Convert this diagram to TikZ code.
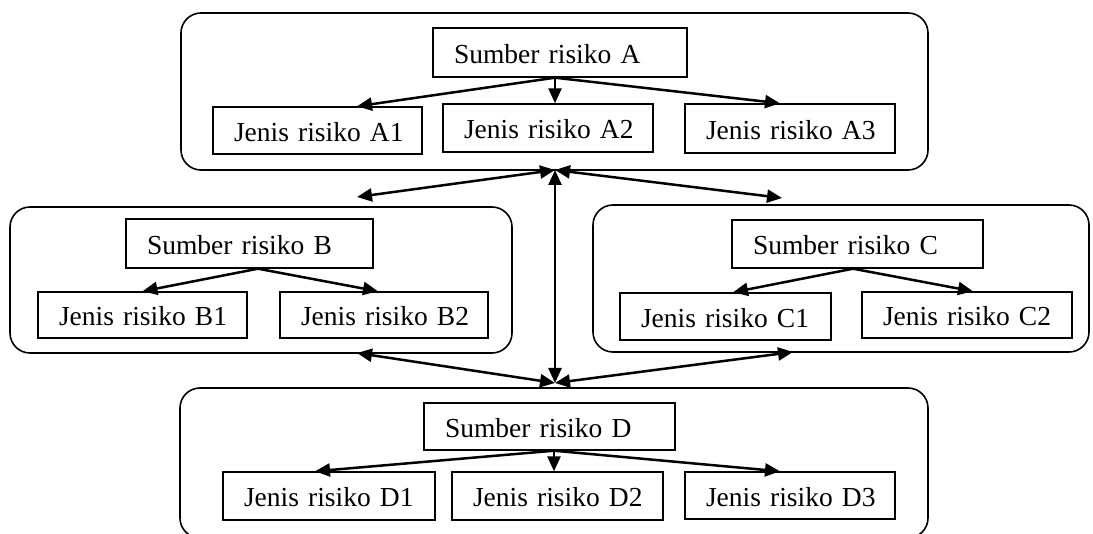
\documentclass[tikz,border=0pt]{standalone}
\usepackage{fontspec}
\setmainfont{Liberation Serif}
\usetikzlibrary{arrows.meta}
\begin{document}
\begin{tikzpicture}[x=1pt,y=-1pt,
  bx/.style={draw, line width=1.4pt, inner xsep=21pt, inner ysep=0pt, align=left,
    text height=22pt, text depth=0pt, font=\fontsize{27.5}{30}\selectfont},
  grp/.style={draw, line width=1.6pt, rounded corners=20pt, inner sep=0pt},
  arr/.style={line width=2.5pt, -{Triangle[length=15pt,width=13pt]}},
  darr/.style={line width=2.5pt, {Triangle[length=15pt,width=13pt]}-{Triangle[length=15pt,width=13pt]}}
]
\useasboundingbox (0,0) rectangle (1093,534);
% group frames
\node[grp, minimum width=747pt, minimum height=157pt] (GA) at (554.5,91.5) {};
\node[grp, minimum width=502pt, minimum height=146pt] (GB) at (261,280) {};
\node[grp, minimum width=496pt, minimum height=147pt] (GC) at (841,278.5) {};
\node[grp, minimum width=748pt, minimum height=150pt] (GD) at (554,463) {};
% A
\node[bx, text width=212pt, minimum height=49pt] (SA) at (560,52.5) {\mbox{Sumber risiko A}};
\node[bx, text width=167pt, minimum height=47pt] (A1) at (317.5,130.5) {\mbox{Jenis risiko A1}};
\node[bx, text width=168pt, minimum height=48pt] (A2) at (548,128) {\mbox{Jenis risiko A2}};
\node[bx, text width=168pt, minimum height=49pt] (A3) at (790,128.5) {\mbox{Jenis risiko A3}};
% B
\node[bx, text width=205pt, minimum height=49pt] (SB) at (249.5,243.5) {\mbox{Sumber risiko B}};
\node[bx, text width=167pt, minimum height=46pt] (B1) at (142.5,315) {\mbox{Jenis risiko B1}};
\node[bx, text width=166pt, minimum height=46pt] (B2) at (384,315) {\mbox{Jenis risiko B2}};
% C
\node[bx, text width=209pt, minimum height=48pt] (SC) at (857.5,244) {\mbox{Sumber risiko C}};
\node[bx, text width=169pt, minimum height=47pt] (C1) at (725.5,316.5) {\mbox{Jenis risiko C1}};
\node[bx, text width=168pt, minimum height=46pt] (C2) at (967,315) {\mbox{Jenis risiko C2}};
% D
\node[bx, text width=209pt, minimum height=47pt] (SD) at (549.5,426.5) {\mbox{Sumber risiko D}};
\node[bx, text width=170pt, minimum height=48pt] (D1) at (329,496) {\mbox{Jenis risiko D1}};
\node[bx, text width=169pt, minimum height=48pt] (D2) at (557.5,496) {\mbox{Jenis risiko D2}};
\node[bx, text width=168pt, minimum height=47pt] (D3) at (790,495.5) {\mbox{Jenis risiko D3}};
% inner arrows
\draw[arr] ([xshift=-5pt]SA.south) -- ([xshift=39.5pt]A1.north);
\draw[arr] ([xshift=-5pt]SA.south) -- ([xshift=7pt]A2.north);
\draw[arr] ([xshift=-5pt]SA.south) -- ([xshift=-10pt]A3.north);
\draw[arr] ([xshift=8.5pt]SB.south) -- (B1.north);
\draw[arr] ([xshift=8.5pt]SB.south) -- ([xshift=-6pt]B2.north);
\draw[arr] ([xshift=-4.5pt]SC.south) -- ([xshift=7.5pt]C1.north);
\draw[arr] ([xshift=-4.5pt]SC.south) -- ([xshift=6pt]C2.north);
\draw[arr] ([xshift=4.5pt]SD.south) -- ([xshift=-14pt]D1.north);
\draw[arr] ([xshift=4.5pt]SD.south) -- ([xshift=-3.5pt]D2.north);
\draw[arr] ([xshift=4.5pt]SD.south) -- ([xshift=-10pt]D3.north);
% hub connectors
\coordinate (hubT) at (555,170);
\coordinate (hubB) at (555,383);
\coordinate (bT) at (357,197);
\coordinate (cT) at (782,198);
\coordinate (bB) at (357,353);
\coordinate (cB) at (793,352);
\draw[darr] (bT) -- (hubT);
\draw[darr] (cT) -- (hubT);
\draw[darr] (hubB) -- (hubT);
\draw[darr] (bB) -- (hubB);
\draw[darr] (cB) -- (hubB);
\end{tikzpicture}
\end{document}
